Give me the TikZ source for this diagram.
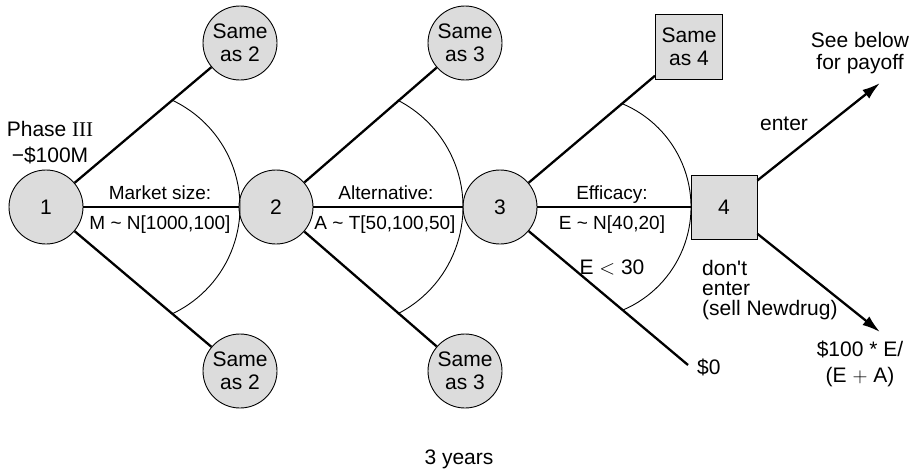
\documentclass[tikz,border=0pt]{standalone}
\usepackage{fontspec}
\setmainfont{Liberation Sans}
\newfontfamily\serifF{Liberation Serif}
\usetikzlibrary{arrows.meta}
\definecolor{nodegray}{RGB}{220,220,220}
\begin{document}
\begin{tikzpicture}[x=1pt,y=-1pt,
  chance/.style={circle,draw,line width=0.9pt,fill=nodegray,minimum size=74pt,inner sep=0pt,align=center,font=\fontsize{21}{23.5}\selectfont},
  decbox/.style={rectangle,draw,line width=0.9pt,fill=nodegray,minimum width=66pt,minimum height=64pt,inner sep=0pt,align=center,font=\fontsize{21}{23.5}\selectfont},
  branch/.style={line width=2.3pt},
  fan/.style={line width=0.9pt},
  lbl/.style={inner sep=0pt,font=\fontsize{21}{23}\selectfont},
  elbl/.style={inner sep=0pt,font=\fontsize{19}{22}\selectfont,anchor=base},
  arr/.style={line width=2.3pt,-{Latex[length=18pt,width=11pt]}}
]
\useasboundingbox (0,0) rectangle (917,471);

% main nodes
\node[chance] (n1) at (46,207) {1};
\node[chance] (n2) at (276,207) {2};
\node[chance] (n3) at (500,207) {3};
\node[decbox] (n4) at (724,207) {4};

\node[chance] (s2a) at (240,43) {Same\\as 2};
\node[chance] (s2b) at (240,371) {Same\\as 2};
\node[chance] (s3a) at (465,43) {Same\\as 3};
\node[chance] (s3b) at (465,371) {Same\\as 3};
\node[decbox,minimum width=67pt,minimum height=65pt] (s4) at (689,47) {Same\\as 4};

\coordinate (zeroEnd) at (688,365);
\coordinate (enterEnd) at (880,83);
\coordinate (noEnd) at (880,332);

% branches
\draw[branch] (n1) -- (n2);
\draw[branch] (n1) -- (s2a);
\draw[branch] (n1) -- (s2b);
\draw[branch] (n2) -- (n3);
\draw[branch] (n2) -- (s3a);
\draw[branch] (n2) -- (s3b);
\draw[branch] (n3) -- (n4);
\draw[branch] (n3) -- (s4);
\draw[branch] (n3) -- (zeroEnd);
\draw[arr] (n4) -- (enterEnd);
\draw[arr] (n4) -- (noEnd);

% fans
\coordinate (c1) at (122,207);
\coordinate (c2) at (343,207);
\coordinate (c3) at (579,207);
\draw[fan] ([shift={(65:118)}]c1) arc[start angle=65,end angle=-65,radius=118];
\draw[fan] ([shift={(63:120)}]c2) arc[start angle=63,end angle=-63,radius=120];
\draw[fan] ([shift={(67:112)}]c3) arc[start angle=67,end angle=-67,radius=112];

% labels
\node[lbl,align=center,anchor=north,font=\fontsize{21}{26}\selectfont] (ph) at (50,121) {Phase {\serifF III}\\\char"2212\$100M};
\node[elbl] (l1a) at (160,199) {Market size:};
\node[elbl] (l1b) at (160,229) {M \textasciitilde{} N[1000,100]};
\node[elbl] (l2a) at (386,199) {Alternative:};
\node[elbl] (l2b) at (385,229) {A \textasciitilde{} T[50,100,50]};
\node[elbl] (l3a) at (612,199) {Efficacy:};
\node[elbl] (l3b) at (612,229) {E \textasciitilde{} N[40,20]};
\node[lbl,anchor=base] (lt) at (612,274) {E $<$ 30};
\node[lbl,anchor=base] (le) at (784,130) {enter};
\node[lbl,align=left,anchor=north west,font=\fontsize{21}{20}\selectfont] (ld) at (702,260) {don\textquotesingle t\\enter\\(sell Newdrug)};
\node[lbl,align=center,anchor=north,font=\fontsize{21}{22}\selectfont] (ls) at (860,32) {See below\\for payoff};
\node[lbl,align=center,anchor=north,font=\fontsize{21}{26}\selectfont] (lp) at (860,341) {\$100 * E/\\(E $+$ A)};
\node[lbl,anchor=base west] (lz) at (697,374) {\$0};
\node[lbl,anchor=base] (ly) at (459,464) {3 years};
\end{tikzpicture}
\end{document}
